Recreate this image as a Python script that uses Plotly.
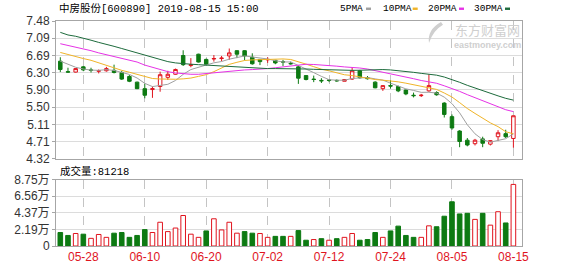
import plotly.graph_objects as go
import pandas as pd

# ---------------- data ----------------
dates = ["05-23", "05-24", "05-27", "05-28", "05-29", "05-30", "05-31", "06-03", "06-04", "06-05",
         "06-06", "06-10", "06-11", "06-12", "06-13", "06-14", "06-17", "06-18", "06-19", "06-20",
         "06-21", "06-24", "06-25", "06-26", "06-27", "06-28", "07-01", "07-02", "07-03", "07-04",
         "07-05", "07-08", "07-09", "07-10", "07-11", "07-12", "07-15", "07-16", "07-17", "07-18",
         "07-19", "07-22", "07-23", "07-24", "07-25", "07-26", "07-29", "07-30", "07-31", "08-01",
         "08-02", "08-05", "08-06", "08-07", "08-08", "08-09", "08-12", "08-13", "08-14", "08-15"]
tick_dates = ["05-28", "06-10", "06-20", "07-02", "07-12", "07-24", "08-05", "08-15"]

open_ = [6.56, 6.32, 6.31, 6.43, 6.36, 6.33, 6.34, 6.35, 6.30, 6.21,
         6.08, 5.93, 5.91, 5.98, 6.19, 6.26, 6.69, 6.46, 6.72, 6.60,
         6.61, 6.62, 6.68, 6.80, 6.80, 6.65, 6.60, 6.59, 6.58, 6.55,
         6.51, 6.43, 6.23, 6.15, 6.12, 6.13, 6.12, 6.10, 6.15, 6.34,
         6.18, 6.08, 5.93, 6.00, 5.98, 5.90, 5.78, 5.77, 5.88, 5.84,
         5.60, 5.29, 4.96, 4.75, 4.67, 4.78, 4.66, 4.83, 4.90, 4.79]
high = [6.65, 6.41, 6.40, 6.45, 6.41, 6.37, 6.43, 6.48, 6.34, 6.24,
        6.09, 6.04, 5.98, 6.32, 6.34, 6.39, 6.81, 6.63, 6.73, 6.62,
        6.70, 6.68, 6.85, 6.81, 6.81, 6.74, 6.61, 6.65, 6.59, 6.59,
        6.55, 6.47, 6.23, 6.23, 6.17, 6.15, 6.14, 6.15, 6.41, 6.36,
        6.22, 6.10, 6.01, 6.12, 6.00, 5.91, 5.84, 5.81, 6.26, 5.87,
        5.62, 5.34, 4.98, 4.80, 4.78, 4.83, 4.75, 4.98, 4.99, 5.31]
low = [6.31, 6.30, 6.30, 6.33, 6.30, 6.28, 6.32, 6.28, 6.13, 6.08,
       5.92, 5.71, 5.72, 5.86, 6.13, 6.25, 6.45, 6.42, 6.53, 6.47,
       6.55, 6.56, 6.59, 6.63, 6.58, 6.48, 6.47, 6.52, 6.49, 6.45,
       6.48, 6.04, 6.12, 6.08, 6.06, 6.08, 6.09, 6.10, 6.13, 6.16,
       6.14, 5.94, 5.88, 5.93, 5.85, 5.78, 5.73, 5.74, 5.86, 5.77,
       5.27, 4.99, 4.59, 4.61, 4.63, 4.59, 4.63, 4.73, 4.80, 4.58]
close = [6.37, 6.31, 6.39, 6.36, 6.35, 6.34, 6.39, 6.30, 6.15, 6.10,
         5.93, 5.78, 5.93, 6.25, 6.26, 6.37, 6.48, 6.48, 6.54, 6.49,
         6.62, 6.63, 6.75, 6.72, 6.68, 6.50, 6.55, 6.60, 6.52, 6.54,
         6.50, 6.17, 6.14, 6.14, 6.11, 6.12, 6.11, 6.14, 6.34, 6.18,
         6.16, 5.95, 6.00, 5.99, 5.88, 5.81, 5.77, 5.78, 6.00, 5.79,
         5.34, 5.03, 4.72, 4.64, 4.75, 4.68, 4.74, 4.92, 4.83, 5.31]
volume = [17800, 13900, 16500, 15600, 10100, 15200, 11400, 16900, 17800, 11400,
          13900, 21600, 17800, 31300, 19000, 23700, 40200, 15600, 11400, 19900,
          35900, 21200, 31300, 16900, 19000, 16900, 16500, 11400, 12700, 12700,
          12700, 20300, 7600, 8500, 9700, 7600, 9700, 11400, 16500, 7600,
          8500, 17800, 11400, 19900, 26200, 13900, 11400, 11400, 26600, 25400,
          39300, 58300, 42300, 43100, 35100, 43100, 27500, 45200, 30400, 81218]
# 1 = red (rising) volume bar, 0 = green (falling) volume bar, as shown in the chart
vol_rise = [0, 0, 1, 0, 1, 1, 1, 0, 0, 0,
            0, 0, 1, 1, 1, 1, 1, 1, 1, 0,
            1, 1, 1, 1, 0, 0, 1, 1, 0, 0,
            1, 0, 0, 1, 0, 1, 0, 1, 1, 0,
            0, 0, 1, 0, 0, 0, 0, 1, 1, 0,
            0, 0, 0, 0, 1, 0, 1, 1, 0, 1]
# moving-average values before a full window exists
ma5_head = [6.56, 6.49, 6.42, 6.38]
ma10_head = [6.76, 6.71, 6.66, 6.62, 6.58, 6.52, 6.47, 6.41, 6.35]
ma20_head = [6.96, 6.92, 6.89, 6.85, 6.80, 6.75, 6.71, 6.67, 6.63, 6.59,
             6.54, 6.47, 6.42, 6.37, 6.32, 6.29, 6.27, 6.26, 6.26]
ma30_head = [7.22, 7.16, 7.13, 7.09, 7.04, 6.99, 6.95, 6.90, 6.85, 6.80,
             6.74, 6.69, 6.64, 6.59, 6.55, 6.52, 6.50, 6.49, 6.48, 6.47,
             6.45, 6.44, 6.43, 6.42, 6.41, 6.40, 6.40, 6.39, 6.39]
price_ticks = ["4.32", "4.71", "5.11", "5.50", "5.90", "6.30", "6.69", "7.09", "7.48"]
vol_ticks = ["0", "2.19万", "4.37万", "6.56万", "8.75万"]
ma_names = ["5PMA", "10PMA", "20PMA", "30PMA"]

# ---------------- styles ----------------
RED = "#e0141e"
GREEN = "#0d7a12"
MA_COLORS = ["#a0a0a0", "#f0b428", "#e632e6", "#1d6b3c"]
BORDER = "#a6a6a6"
GRID = "#dcdcdc"
VGRID = "#c4c4c4"
WM = "#cfcfcf"
W, H = 578, 276
L, R, T, B = 56, 56, 21, 21
PW, PH = W - L - R, H - T - B


def px(x):
    return (x - L) / PW


def py(y):
    return (H - B - y) / PH


n = len(dates)
idx = list(range(n))
cs = pd.Series(close)
mas = []
for w, head in zip([5, 10, 20, 30], [ma5_head, ma10_head, ma20_head, ma30_head]):
    roll = cs.rolling(w).mean().tolist()
    mas.append(head + roll[len(head):])

fig = go.Figure()
fig.add_trace(go.Candlestick(
    x=idx, open=open_, high=high, low=low, close=close,
    increasing=dict(line=dict(color=RED, width=1), fillcolor="white"),
    decreasing=dict(line=dict(color=GREEN, width=1), fillcolor=GREEN),
    whiskerwidth=0, xaxis="x", yaxis="y", showlegend=False, hoverinfo="skip"))
for vals, col, nm in zip(mas, MA_COLORS, ma_names):
    fig.add_trace(go.Scatter(x=idx, y=vals, mode="lines", name=nm,
                             line=dict(color=col, width=1), xaxis="x", yaxis="y",
                             showlegend=False, hoverinfo="skip"))

fig.add_trace(go.Bar(
    x=idx, y=volume, width=0.6,
    marker=dict(color=["white" if u else GREEN for u in vol_rise],
                line=dict(color=[RED if u else GREEN for u in vol_rise], width=1)),
    xaxis="x2", yaxis="y2", showlegend=False, hoverinfo="skip"))

tickvals = [dates.index(d) for d in tick_dates]
xr = [-0.56, n - 1 + 1.12]
common_x = dict(range=xr, tickvals=tickvals, showgrid=True, gridcolor=VGRID,
                griddash="dash", gridwidth=1, showline=True, linecolor=BORDER,
                mirror=True, zeroline=False, fixedrange=True)
p_lo, p_hi = float(price_ticks[0]), float(price_ticks[-1])
p_pos = [p_lo + (p_hi - p_lo) * k / (len(price_ticks) - 1) for k in range(len(price_ticks))]
v_hi = 87500
v_pos = [v_hi * k / (len(vol_ticks) - 1) for k in range(len(vol_ticks))]

fig.update_layout(
    width=W, height=H, margin=dict(l=L, r=R, t=T, b=B),
    paper_bgcolor="white", plot_bgcolor="white",
    font=dict(family="Liberation Sans, Arial, Noto Sans CJK SC", size=12, color="#333333"),
    boxgap=0.35,
    xaxis=dict(**common_x, anchor="y", showticklabels=False, rangeslider=dict(visible=False)),
    xaxis2=dict(**common_x, anchor="y2", matches="x", ticktext=tick_dates,
                tickfont=dict(color=RED, size=12), ticks=""),
    yaxis=dict(domain=[py(164.5), 1], range=[p_lo, p_hi], tickvals=p_pos, ticktext=price_ticks,
               showgrid=True, gridcolor=GRID, showline=True, linecolor=BORDER, mirror=True,
               ticks="outside", ticklen=3, tickcolor=BORDER, zeroline=False, fixedrange=True,
               tickfont=dict(size=12, color="#333333")),
    yaxis2=dict(domain=[0, py(186)], range=[0, v_hi], tickvals=v_pos, ticktext=vol_ticks,
                showgrid=True, gridcolor=GRID, showline=True, linecolor=BORDER, mirror=True,
                ticks="outside", ticklen=3, tickcolor=BORDER, zeroline=False, fixedrange=True,
                tickfont=dict(size=12, color="#333333")),
)

TFONT = "Liberation Mono, Noto Sans CJK SC"
ann = [
    dict(text="中房股份[600890] 2019-08-15 15:00", x=px(56.5), y=py(8.5), xanchor="left",
         yanchor="middle", font=dict(family=TFONT, size=10.5, color="#000000")),
    dict(text="成交量:" + str(volume[-1]), x=px(57.5), y=py(177), xanchor="left",
         yanchor="middle", font=dict(family=TFONT, size=10.5, color="#000000")),
    dict(text="东方财富网", x=px(522), y=py(29.5), xanchor="right", yanchor="middle",
         font=dict(family="Noto Sans CJK SC", size=13, color=WM)),
    dict(text="<b>eastmoney.com</b>", x=px(523), y=py(45.5), xanchor="right", yanchor="middle",
         font=dict(family="Liberation Sans", size=9, color=WM)),
]
leg_x = [338.3, 380.7, 425.7, 471.7]
dash_x = [366, 412.7, 459, 505]
shapes = [
    # small grey swoosh of the watermark logo
    dict(type="path", xref="paper", yref="paper",
         path="M {0},{1} Q {2},{3} {4},{5} L {6},{7} Q {8},{9} {0},{1} Z".format(
             px(429), py(44), px(427), py(30), px(441), py(22), px(443), py(25),
             px(433), py(31)),
         fillcolor=WM, line=dict(width=0)),
]
for nm, lx, dx, col in zip(ma_names, leg_x, dash_x, MA_COLORS):
    ann.append(dict(text=nm, x=px(lx), y=py(8.5), xanchor="left", yanchor="middle",
                    font=dict(family="Liberation Mono", size=9.5, color="#000000")))
    shapes.append(dict(type="rect", xref="paper", yref="paper", x0=px(dx), x1=px(dx + 5),
                       y0=py(9.5), y1=py(7), fillcolor=col, line=dict(width=0)))
for a in ann:
    a.update(xref="paper", yref="paper", showarrow=False)
fig.update_layout(annotations=ann, shapes=shapes)

fig.write_html("out.html")
